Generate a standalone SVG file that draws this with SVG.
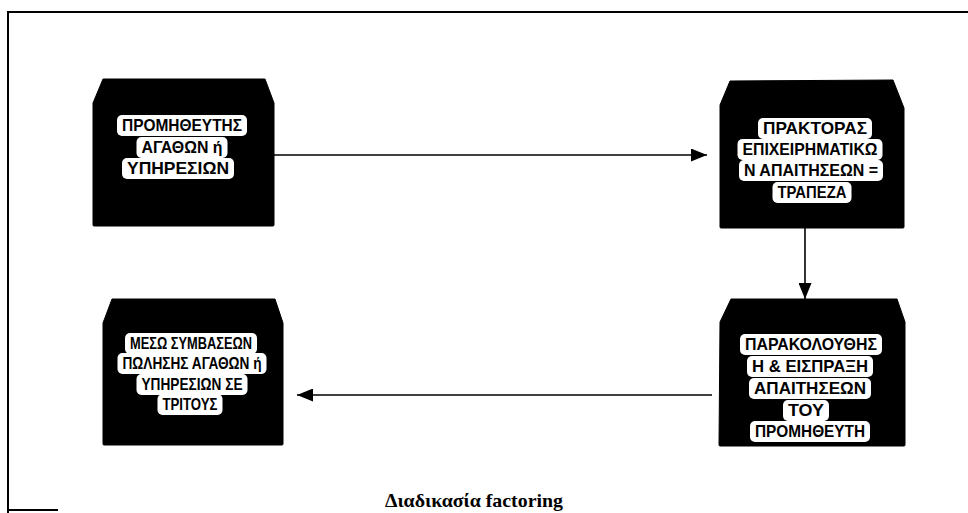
<svg xmlns="http://www.w3.org/2000/svg" width="968" height="513" viewBox="0 0 968 513">
  <style>
    .frame { fill: none; stroke: #000; stroke-width: 2; }
    .box { fill: #000; stroke: #000; stroke-width: 1; stroke-linejoin: round; }
    .pad { fill: #fff; }
    .lbl { font-family: "Liberation Sans", Arial, sans-serif; font-size: 17px; font-weight: bold;
           fill: #000; text-anchor: middle; }
    .link { fill: none; stroke: #000; stroke-width: 1.6; }
    .caption { font-family: "Liberation Serif", "Times New Roman", serif; font-size: 19px;
               font-weight: bold; fill: #000; text-anchor: middle; }
  </style>
  <defs>
    <marker id="head" markerUnits="userSpaceOnUse" markerWidth="16" markerHeight="13"
            refX="16" refY="6.5" orient="auto">
      <path d="M0,0 L16,6.5 L0,13 Z" fill="#000"/>
    </marker>
  </defs>

  <rect width="968" height="513" fill="#fff"/>

  <!-- page frame -->
  <path class="frame" d="M8,513 L8,12 L968,12"/>
  <path class="frame" d="M8,510 L58,510" stroke-width="1.5"/>

  <!-- connectors -->
  <g id="connectors">
    <line class="link" x1="274" y1="155" x2="707" y2="155" marker-end="url(#head)"/>
    <line class="link" x1="805" y1="228" x2="805" y2="299" marker-end="url(#head)"/>
    <line class="link" x1="712" y1="395" x2="297" y2="395" marker-end="url(#head)"/>
  </g>

  <!-- supplier -->
  <g id="supplier">
    <path class="box" d="M103,79 L265,79 L274,103 L274,225 Q274,226 273,226 L94,226 Q93,226 93,225 L93,103 Z"/>
    <rect class="pad" x="117" y="115" width="130" height="21" rx="5"/>
    <rect class="pad" x="136.5" y="137" width="91" height="21" rx="5"/>
    <rect class="pad" x="122" y="158" width="112" height="21" rx="5"/>
    <text class="lbl" x="182" y="131" textLength="120" lengthAdjust="spacingAndGlyphs">ΠΡΟΜΗΘΕΥΤΗΣ</text>
    <text class="lbl" x="182" y="153" textLength="81" lengthAdjust="spacingAndGlyphs">ΑΓΑΘΩΝ ή</text>
    <text class="lbl" x="178" y="174" textLength="102" lengthAdjust="spacingAndGlyphs">ΥΠΗΡΕΣΙΩΝ</text>
  </g>

  <!-- factor / bank -->
  <g id="factor">
    <path class="box" d="M730,81 L893,80 L904,108 L904,227 Q904,228 903,228 L721,228 Q720,228 720,227 L720,105 Z"/>
    <rect class="pad" x="758" y="118" width="114" height="21" rx="5"/>
    <rect class="pad" x="737.5" y="139" width="145" height="21" rx="5"/>
    <rect class="pad" x="739" y="160" width="144" height="21" rx="5"/>
    <rect class="pad" x="772.5" y="182" width="79" height="21" rx="5"/>
    <text class="lbl" x="815" y="134" textLength="104" lengthAdjust="spacingAndGlyphs">ΠΡΑΚΤΟΡΑΣ</text>
    <text class="lbl" x="810" y="155" textLength="135" lengthAdjust="spacingAndGlyphs">ΕΠΙΧΕΙΡΗΜΑΤΙΚΩ</text>
    <text class="lbl" x="811" y="176" textLength="134" lengthAdjust="spacingAndGlyphs">Ν ΑΠΑΙΤΗΣΕΩΝ =</text>
    <text class="lbl" x="812" y="198" textLength="69" lengthAdjust="spacingAndGlyphs">ΤΡΑΠΕΖΑ</text>
  </g>

  <!-- monitoring and collection -->
  <g id="collection">
    <path class="box" d="M731,299 L897,299 L905,322 L905,445 Q905,446 904,446 L720,446 Q719,446 719,445 L720,322 Z"/>
    <rect class="pad" x="740" y="334" width="142" height="21" rx="5"/>
    <rect class="pad" x="747" y="356" width="126" height="21" rx="5"/>
    <rect class="pad" x="749" y="378" width="122" height="21" rx="5"/>
    <rect class="pad" x="783" y="400" width="46" height="21" rx="5"/>
    <rect class="pad" x="750" y="421" width="120" height="21" rx="5"/>
    <text class="lbl" x="811" y="350" textLength="132" lengthAdjust="spacingAndGlyphs">ΠΑΡΑΚΟΛΟΥΘΗΣ</text>
    <text class="lbl" x="810" y="372" textLength="116" lengthAdjust="spacingAndGlyphs">Η &amp; ΕΙΣΠΡΑΞΗ</text>
    <text class="lbl" x="810" y="394" textLength="112" lengthAdjust="spacingAndGlyphs">ΑΠΑΙΤΗΣΕΩΝ</text>
    <text class="lbl" x="806" y="416" textLength="36" lengthAdjust="spacingAndGlyphs">ΤΟΥ</text>
    <text class="lbl" x="810" y="437" textLength="110" lengthAdjust="spacingAndGlyphs">ΠΡΟΜΗΘΕΥΤΗ</text>
  </g>

  <!-- sales contracts -->
  <g id="contracts">
    <path class="box" d="M112,299 L275,299 L283,323 L283,444 Q283,445 282,445 L104,445 Q103,445 103,444 L103,323 Z"/>
    <rect class="pad" x="125" y="333" width="132" height="21" rx="5"/>
    <rect class="pad" x="117.5" y="353" width="149" height="21" rx="5"/>
    <rect class="pad" x="136.5" y="374" width="111" height="21" rx="5"/>
    <rect class="pad" x="157.5" y="394" width="65" height="21" rx="5"/>
    <text class="lbl" x="191" y="349" textLength="122" lengthAdjust="spacingAndGlyphs">ΜΕΣΩ ΣΥΜΒΑΣΕΩΝ</text>
    <text class="lbl" x="192" y="369" textLength="139" lengthAdjust="spacingAndGlyphs">ΠΩΛΗΣΗΣ ΑΓΑΘΩΝ ή</text>
    <text class="lbl" x="192" y="390" textLength="101" lengthAdjust="spacingAndGlyphs">ΥΠΗΡΕΣΙΩΝ ΣΕ</text>
    <text class="lbl" x="190" y="410" textLength="55" lengthAdjust="spacingAndGlyphs">ΤΡΙΤΟΥΣ</text>
  </g>

  <text class="caption" x="474" y="507" textLength="178" lengthAdjust="spacingAndGlyphs">Διαδικασία factoring</text>
</svg>
